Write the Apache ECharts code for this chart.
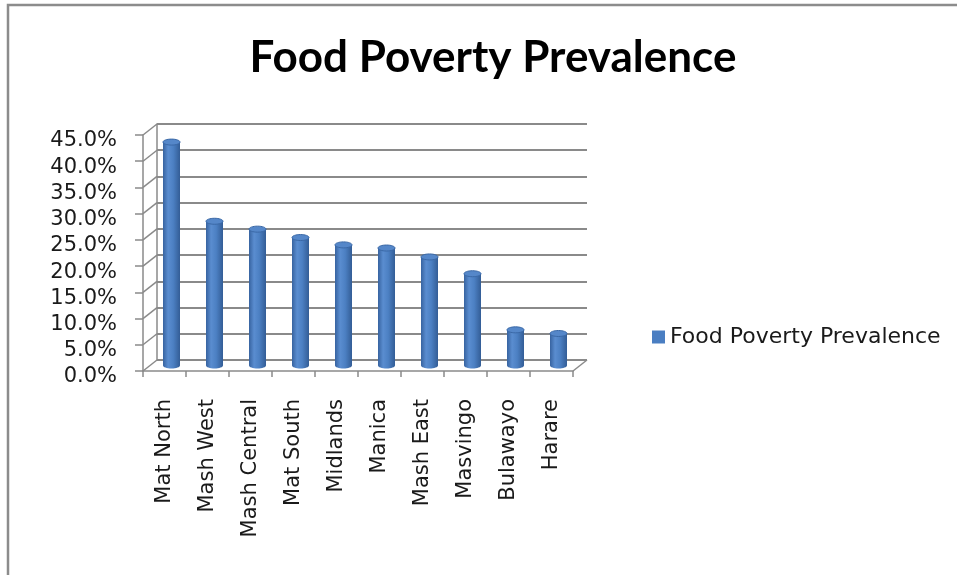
<!DOCTYPE html>
<html>
<head>
<meta charset="utf-8">
<title>Food Poverty Prevalence</title>
<script src="https://cdn.jsdelivr.net/npm/echarts@6/dist/echarts.min.js"></script>
<style>
  html, body { margin: 0; padding: 0; background: #ffffff; }
  #chart { width: 957px; height: 575px; }
</style>
</head>
<body>
<div id="chart"></div>
<script>
// Provinces, in the order they are plotted
const provinces = ['Mat North', 'Mash West', 'Mash Central', 'Mat South', 'Midlands',
                   'Manica', 'Mash East', 'Masvingo', 'Bulawayo', 'Harare'];
// Share of households below the food poverty line (percent)
const prevalence = [42.6, 27.5, 26.0, 24.4, 23.0, 22.4, 20.7, 17.5, 6.8, 6.1];
// Value-axis tick values (percent)
const yTicks = [0, 5, 10, 15, 20, 25, 30, 35, 40, 45];

const seriesName = 'Food Poverty Prevalence';
const AXIS_FONT = 'DejaVu Sans';
const GRID_GREY = '#8a8a8a';
// depth of the 3-D box: offset of the back wall from the front plane
const DEPTH_X = 14, DEPTH_Y = 11;
// value labels sit slightly below their ticks
const LABEL_DROP = 6;

const chart = echarts.init(document.getElementById('chart'), null, { renderer: 'canvas' });

const yMax = yTicks[yTicks.length - 1];
const yStep = yTicks[1] - yTicks[0];

// Cylinder-shaped column
function renderCylinder(params, api) {
  const i = api.value(0);
  const v = api.value(1);
  const top = api.coord([i, v]);
  const base = api.coord([i, 0]);
  const w = 17, ry = 3;
  const x0 = top[0] - w / 2;
  const bodyFill = new echarts.graphic.LinearGradient(0, 0, 1, 0, [
    { offset: 0, color: '#3763a0' },
    { offset: 0.3, color: '#5a8dd0' },
    { offset: 0.6, color: '#4c80c3' },
    { offset: 1, color: '#335d96' }
  ]);
  return {
    type: 'group',
    children: [
      { type: 'ellipse', shape: { cx: base[0], cy: base[1], rx: w / 2, ry: ry },
        style: { fill: bodyFill } },
      { type: 'rect', shape: { x: x0, y: top[1], width: w, height: base[1] - top[1] },
        style: { fill: bodyFill } },
      { type: 'ellipse', shape: { cx: top[0], cy: top[1], rx: w / 2, ry: ry },
        style: { fill: '#5587c9', stroke: '#3a68a6', lineWidth: 1 } }
    ]
  };
}

// Side-wall lines joining each front tick to the back wall, plus the floor's right edge
function renderWallLines(params, api) {
  const v = api.value(0);
  const cs = params.coordSys;
  const p = api.coord([0, v]);
  const x = cs.x, y = p[1];
  const children = [{
    type: 'line',
    shape: { x1: x, y1: y, x2: x + DEPTH_X, y2: y - DEPTH_Y },
    style: { stroke: GRID_GREY, lineWidth: 1.5 }
  }];
  if (v === 0) {
    children.push({
      type: 'line',
      shape: { x1: x + cs.width, y1: y, x2: x + cs.width + DEPTH_X, y2: y - DEPTH_Y },
      style: { stroke: GRID_GREY, lineWidth: 1.5 }
    });
  }
  return { type: 'group', children: children };
}

const frontLeft = 143, frontRight = 957 - 573, frontTop = 135, frontBottom = 575 - 371;

const option = {
  backgroundColor: '#ffffff',
  animation: false,
  title: {
    text: 'Food Poverty Prevalence',
    left: 488,
    top: 31,
    textAlign: 'center',
    textStyle: { fontFamily: 'Lato', fontWeight: 'bold', fontSize: 44, color: '#000000' }
  },
  legend: {
    data: [seriesName],
    left: 647,
    top: 321,
    itemWidth: 13,
    itemHeight: 13,
    itemGap: 6,
    icon: 'rect',
    textStyle: { fontFamily: AXIS_FONT, fontSize: 22, color: '#1a1a1a' }
  },
  graphic: [{
    // chart-area frame (top and left edges lie inside the canvas)
    type: 'rect',
    shape: { x: 8, y: 5, width: 1200, height: 1000 },
    style: { fill: null, stroke: '#8c8c8c', lineWidth: 2.5 },
    silent: true
  }],
  grid: [
    // front plane: axes, ticks, category labels
    { left: frontLeft, right: frontRight, top: frontTop, bottom: frontBottom },
    // back wall: gridlines
    { left: frontLeft + DEPTH_X, right: frontRight - DEPTH_X, top: frontTop - DEPTH_Y, bottom: frontBottom + DEPTH_Y },
    // mid-depth plane where the columns stand
    { left: frontLeft + DEPTH_X / 2, right: frontRight - DEPTH_X / 2, top: frontTop - DEPTH_Y / 2, bottom: frontBottom + DEPTH_Y / 2 },
    // value labels
    { left: frontLeft, right: frontRight, top: frontTop + LABEL_DROP, bottom: frontBottom - LABEL_DROP }
  ],
  xAxis: [
    {
      gridIndex: 0, type: 'category', data: provinces,
      axisLine: { lineStyle: { color: GRID_GREY, width: 1.5 } },
      axisTick: { show: true, length: 6, lineStyle: { color: GRID_GREY, width: 1.5 } },
      axisLabel: {
        rotate: 90, margin: 28, interval: 0,
        fontFamily: AXIS_FONT, fontSize: 21, color: '#1a1a1a'
      }
    },
    { gridIndex: 1, type: 'category', data: provinces, show: false },
    { gridIndex: 2, type: 'category', data: provinces, show: false },
    { gridIndex: 3, type: 'category', data: provinces, show: false }
  ],
  yAxis: [
    {
      gridIndex: 0, type: 'value', min: 0, max: yMax, interval: yStep,
      axisLine: { show: true, lineStyle: { color: GRID_GREY, width: 1.5 } },
      axisTick: { show: true, length: 8, lineStyle: { color: GRID_GREY, width: 1.5 } },
      splitLine: { show: false },
      axisLabel: { show: false }
    },
    {
      gridIndex: 1, type: 'value', min: 0, max: yMax, interval: yStep,
      axisLine: { show: true, lineStyle: { color: GRID_GREY, width: 1.5 } },
      axisTick: { show: false },
      axisLabel: { show: false },
      splitLine: { show: true, lineStyle: { color: GRID_GREY, width: 2 } }
    },
    {
      gridIndex: 2, type: 'value', min: 0, max: yMax, interval: yStep, show: false
    },
    {
      gridIndex: 3, type: 'value', min: 0, max: yMax, interval: yStep,
      axisLine: { show: false },
      axisTick: { show: false },
      splitLine: { show: false },
      axisLabel: {
        margin: 26,
        fontFamily: AXIS_FONT, fontSize: 21, color: '#1a1a1a',
        formatter: v => v.toFixed(1) + '%'
      }
    }
  ],
  series: [
    {
      type: 'custom',
      xAxisIndex: 0, yAxisIndex: 0,
      renderItem: renderWallLines,
      data: yTicks.map(v => [v]),
      encode: { y: 0 },
      silent: true,
      z: 1
    },
    {
      name: seriesName,
      type: 'custom',
      xAxisIndex: 2, yAxisIndex: 2,
      renderItem: renderCylinder,
      data: prevalence.map((v, i) => [i, v]),
      encode: { x: 0, y: 1 },
      itemStyle: { color: '#4a7ec2' },
      z: 5
    }
  ]
};

chart.setOption(option);
</script>
</body>
</html>
